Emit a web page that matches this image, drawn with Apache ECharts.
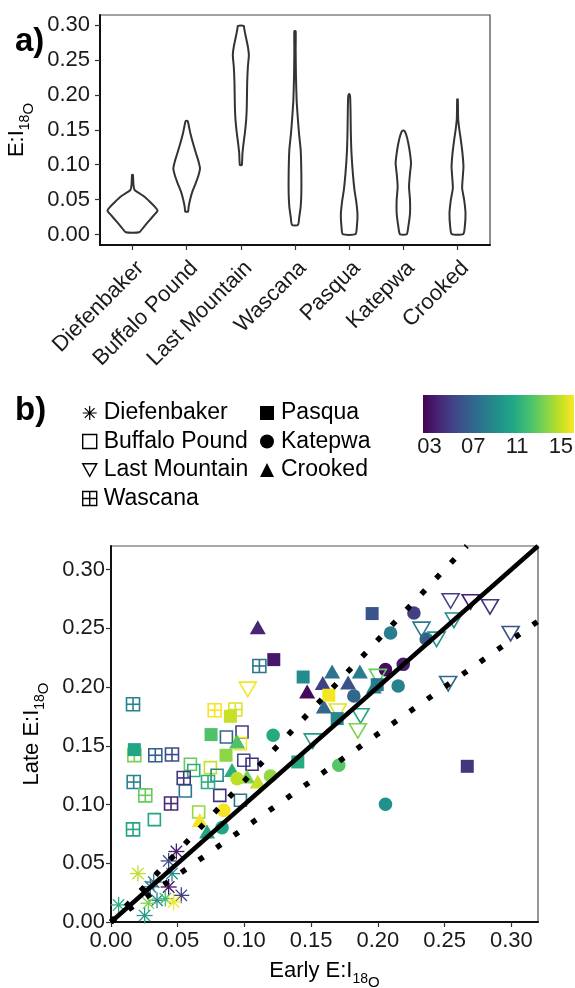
<!DOCTYPE html>
<html>
<head>
<meta charset="utf-8">
<script src="https://cdn.jsdelivr.net/npm/echarts@6/dist/echarts.min.js"></script>
<style>
  html, body { margin: 0; padding: 0; background: #fff; }
  #chart { width: 575px; height: 988px; }
</style>
</head>
<body>
<div id="chart"></div>
<script>
// lakes, in panel (a) order
const lakes = ["Diefenbaker", "Buffalo Pound", "Last Mountain", "Wascana", "Pasqua", "Katepwa", "Crooked"];
const eiTicks = [0, 0.05, 0.1, 0.15, 0.2, 0.25, 0.3];
const yearTicks = [3, 7, 11, 15];

// (a) violin outlines: E:I level and half width (in category units) at that level
const diefLvl = [0.0033, 0.0114, 0.021, 0.028, 0.0343, 0.040, 0.047, 0.0544, 0.060, 0.064, 0.071, 0.0855];
const diefHw = [0.123, 0.215, 0.32, 0.40, 0.462, 0.41, 0.32, 0.215, 0.11, 0.037, 0.018, 0.008];
const bpLvl = [0.0329, 0.040, 0.0496, 0.0615, 0.0734, 0.0854, 0.0949, 0.1044, 0.1164, 0.1307, 0.145, 0.1545, 0.1626];
const bpHw = [0.025, 0.037, 0.062, 0.105, 0.166, 0.22, 0.246, 0.22, 0.172, 0.117, 0.068, 0.043, 0.018];
const lmLvl = [0.0997, 0.1164, 0.1307, 0.145, 0.164, 0.1831, 0.2165, 0.2403, 0.257, 0.269, 0.2833, 0.2952, 0.299];
const lmHw = [0.018, 0.03, 0.05, 0.074, 0.098, 0.11, 0.117, 0.13, 0.148, 0.13, 0.092, 0.062, 0.055];
const wasLvl = [0.0138, 0.0258, 0.040, 0.0591, 0.0877, 0.1211, 0.145, 0.1688, 0.1927, 0.226, 0.2642, 0.2914];
const wasHw = [0.055, 0.08, 0.105, 0.117, 0.117, 0.105, 0.074, 0.05, 0.03, 0.018, 0.012, 0.012];
const pasLvl = [0.0005, 0.0114, 0.0281, 0.0448, 0.0639, 0.0877, 0.1164, 0.145, 0.1783, 0.1974, 0.2012];
const pasHw = [0.117, 0.142, 0.154, 0.135, 0.098, 0.068, 0.043, 0.031, 0.025, 0.018, 0.006];
const katLvl = [0.0005, 0.0114, 0.0305, 0.0496, 0.0687, 0.0877, 0.102, 0.1164, 0.1307, 0.1426, 0.1488];
const katHw = [0.062, 0.092, 0.123, 0.123, 0.105, 0.123, 0.142, 0.123, 0.092, 0.055, 0.018];
const crkLvl = [0.0005, 0.0114, 0.0305, 0.0496, 0.0663, 0.083, 0.0973, 0.1164, 0.1354, 0.1521, 0.1664, 0.1936];
const crkHw = [0.105, 0.135, 0.148, 0.123, 0.086, 0.098, 0.11, 0.092, 0.062, 0.031, 0.012, 0.006];

// (b) early vs late E:I, with year (colour) per lake
const diefEarly = [0.049, 0.0432, 0.0202, 0.0457, 0.032, 0.0295, 0.0432, 0.0527, 0.0345, 0.0407, 0.047, 0.028, 0.0057, 0.0252];
const diefLate = [0.060, 0.052, 0.0412, 0.0412, 0.034, 0.030, 0.0298, 0.0227, 0.0185, 0.0199, 0.017, 0.016, 0.0145, 0.0055];
const diefYear = [3.5, 5.5, 14.8, 9, 7, 8, 3, 5, 8.5, 12, 16, 13.5, 11, 10];
const bpEarly = [0.0865, 0.0982, 0.097, 0.0595, 0.062, 0.0745, 0.0795, 0.0995, 0.1057, 0.0557, 0.0815, 0.097, 0.0657, 0.0325];
const bpLate = [0.1574, 0.1617, 0.1518, 0.1342, 0.129, 0.1314, 0.1249, 0.1376, 0.1342, 0.1115, 0.1078, 0.1036, 0.0936, 0.0871];
const bpYear = [7, 5, 16, 13, 11, 15, 8.5, 5.5, 4, 8, 4.5, 8, 14, 10.5];
const lmEarly = [0.2545, 0.2695, 0.284, 0.2995, 0.257, 0.2327, 0.244, 0.2527, 0.2, 0.187, 0.185, 0.17, 0.1512, 0.1025];
const lmLate = [0.2738, 0.273, 0.2687, 0.246, 0.2574, 0.2497, 0.2412, 0.2034, 0.2095, 0.176, 0.1632, 0.18, 0.1546, 0.1986];
const lmYear = [5, 3.5, 4.5, 5.8, 9, 8, 9.5, 7, 13, 10.5, 13.5, 15.5, 10, 16];
const wasEarly = [0.1112, 0.0165, 0.0777, 0.0932, 0.0332, 0.0457, 0.017, 0.0257, 0.0545, 0.045, 0.0727, 0.0165, 0.0175];
const wasLate = [0.2179, 0.1853, 0.1802, 0.1808, 0.1419, 0.1425, 0.1191, 0.1078, 0.1226, 0.1008, 0.1191, 0.0788, 0.142];
const wasYear = [7.8, 8.5, 16, 15.5, 6.5, 5.5, 8.5, 13, 4.5, 4, 11, 10.5, 13.5];
const pasEarly = [0.122, 0.144, 0.0175, 0.0895, 0.075, 0.0862, 0.1632, 0.1695, 0.1995, 0.1957, 0.267, 0.14];
const pasLate = [0.2233, 0.2085, 0.1467, 0.1751, 0.1595, 0.1419, 0.193, 0.1731, 0.202, 0.2625, 0.1325, 0.1362];
const pasYear = [3.3, 9, 10.5, 15, 12.3, 13.8, 16, 8.8, 8, 6, 4.5, 10.8];
const katEarly = [0.227, 0.2095, 0.2362, 0.2057, 0.219, 0.2152, 0.182, 0.1707, 0.2057, 0.1215, 0.0945, 0.1195, 0.0845, 0.0832];
const katLate = [0.263, 0.246, 0.2409, 0.2148, 0.2193, 0.2009, 0.1923, 0.1334, 0.1002, 0.1589, 0.122, 0.1243, 0.095, 0.0803];
const katYear = [5, 8.2, 6.5, 2.8, 3.5, 8.5, 7, 12.5, 9.3, 10.8, 14.8, 14, 16, 10.5];
const crkEarly = [0.11, 0.147, 0.1587, 0.1657, 0.1777, 0.1865, 0.1595, 0.197, 0.0945, 0.0907, 0.102, 0.11, 0.0665, 0.072];
const crkLate = [0.2505, 0.1957, 0.2029, 0.2128, 0.2034, 0.2128, 0.183, 0.2, 0.1532, 0.129, 0.1234, 0.1191, 0.0864, 0.0766];
const crkYear = [3.8, 2.7, 5, 7.6, 5.8, 8.2, 7, 8.5, 12.3, 11, 13.3, 15, 16, 10.5];

// 1:1 line and +/-20% lines
const refSlopes = [1, 1.2, 0.8];
const yearMin = 2.4, yearMax = 16.2;

const FONT = "'Liberation Sans', Arial, sans-serif";
const viridis = ["#440154", "#482475", "#414487", "#355f8d", "#2a788e", "#21918c",
  "#22a884", "#44bf70", "#7ad151", "#bddf26", "#fde725"];

const violins = [[diefLvl, diefHw], [bpLvl, bpHw], [lmLvl, lmHw], [wasLvl, wasHw],
  [pasLvl, pasHw], [katLvl, katHw], [crkLvl, crkHw]];

function zip(a, b, c) {
  return a.map((v, i) => [v, b[i], c[i]]);
}

const chart = echarts.init(document.getElementById("chart"));

// violin outline
function violinItem(params, api) {
  const v = violins[params.dataIndex];
  const cx = api.value(0);
  const pts = [];
  for (let k = 0; k < v[0].length; k++) pts.push(api.coord([cx - v[1][k], v[0][k]]));
  for (let k = v[0].length - 1; k >= 0; k--) pts.push(api.coord([cx + v[1][k], v[0][k]]));
  return {
    type: "polygon",
    shape: { points: pts, smooth: 0.2 },
    style: { fill: "#fff", stroke: "#333", lineWidth: 2 },
  };
}

// point shapes like R pch 8, 0, 6, 12, 15, 16, 17
function markItem(shape) {
  return function (params, api) {
    const p = api.coord([api.value(0), api.value(1)]);
    const c = api.visual("color");
    const x = p[0], y = p[1];
    const open = { fill: "none", stroke: c, lineWidth: 1.6 };
    if (shape === "asterisk") {
      const r = 8, d = 5.7;
      const segs = [[x - r, y, x + r, y], [x, y - r, x, y + r], [x - d, y - d, x + d, y + d], [x - d, y + d, x + d, y - d]];
      return {
        type: "group",
        children: segs.map((s) => ({
          type: "line",
          shape: { x1: s[0], y1: s[1], x2: s[2], y2: s[3] },
          style: { stroke: c, lineWidth: 1.3 },
        })),
      };
    }
    if (shape === "openSquare") {
      return { type: "rect", shape: { x: x - 6, y: y - 6, width: 12, height: 12 }, style: open };
    }
    if (shape === "openTriDown") {
      return { type: "polygon", shape: { points: [[x - 8.5, y - 6.5], [x + 8.5, y - 6.5], [x, y + 8]] }, style: open };
    }
    if (shape === "crossSquare") {
      return {
        type: "group",
        children: [
          { type: "rect", shape: { x: x - 6.5, y: y - 6.5, width: 13, height: 13 }, style: open },
          { type: "line", shape: { x1: x - 6.5, y1: y, x2: x + 6.5, y2: y }, style: open },
          { type: "line", shape: { x1: x, y1: y - 6.5, x2: x, y2: y + 6.5 }, style: open },
        ],
      };
    }
    if (shape === "square") {
      return { type: "rect", shape: { x: x - 6.5, y: y - 6.5, width: 13, height: 13 }, style: { fill: c } };
    }
    if (shape === "circle") {
      return { type: "circle", shape: { cx: x, cy: y, r: 6.8 }, style: { fill: c } };
    }
    return { type: "polygon", shape: { points: [[x - 8, y + 6.5], [x + 8, y + 6.5], [x, y - 7.5]] }, style: { fill: c } };
  };
}

// drawing order of the point layers
const pointLayers = [
  ["Buffalo Pound", "openSquare", zip(bpEarly, bpLate, bpYear)],
  ["Crooked", "triUp", zip(crkEarly, crkLate, crkYear)],
  ["Diefenbaker", "asterisk", zip(diefEarly, diefLate, diefYear)],
  ["Katepwa", "circle", zip(katEarly, katLate, katYear)],
  ["Last Mountain", "openTriDown", zip(lmEarly, lmLate, lmYear)],
  ["Wascana", "crossSquare", zip(wasEarly, wasLate, wasYear)],
  ["Pasqua", "square", zip(pasEarly, pasLate, pasYear)],
];

const bMax = 0.32;
const series = [];
series.push({
  type: "custom",
  xAxisIndex: 0,
  yAxisIndex: 0,
  renderItem: violinItem,
  data: lakes.map((n, i) => [i + 1]),
  silent: true,
});
pointLayers.forEach((l) => {
  series.push({
    name: l[0],
    type: "custom",
    xAxisIndex: 1,
    yAxisIndex: 1,
    renderItem: markItem(l[1]),
    encode: { x: 0, y: 1 },
    data: l[2],
    silent: true,
  });
});
refSlopes.forEach((s, i) => {
  const xe = Math.min(bMax, bMax / s);
  series.push({
    type: "line",
    xAxisIndex: 1,
    yAxisIndex: 1,
    showSymbol: false,
    silent: true,
    z: 5,
    data: [[0, 0], [xe, xe * s]],
    lineStyle: i === 0
      ? { color: "#000", width: 4.5 }
      : { color: "#000", width: 5.5, type: [5.5, 16], cap: "butt" },
  });
});
// colour bar
series.push({
  type: "custom",
  xAxisIndex: 2,
  yAxisIndex: 2,
  silent: true,
  data: [[yearMin, yearMax]],
  renderItem: function (params, api) {
    const a = api.coord([api.value(0), 0]);
    const b = api.coord([api.value(1), 1]);
    return {
      type: "rect",
      shape: { x: a[0], y: b[1], width: b[0] - a[0], height: a[1] - b[1] },
      style: {
        fill: new echarts.graphic.LinearGradient(0, 0, 1, 0,
          viridis.map((c, i) => ({ offset: i / (viridis.length - 1), color: c }))),
      },
    };
  },
});

const nameRich = {
  m: { fontFamily: FONT, fontSize: 22, lineHeight: 22, verticalAlign: "top", color: "#000" },
  s: { fontFamily: FONT, fontSize: 14, lineHeight: 14, verticalAlign: "top", padding: [12, 0, 0, 0], color: "#000" },
  o: { fontFamily: FONT, fontSize: 15, lineHeight: 15, verticalAlign: "top", padding: [15, 0, 0, 0], color: "#000" },
};
const tickLabel = { fontFamily: FONT, fontSize: 22, color: "#1a1a1a" };
const axisLine = { show: true, onZero: false, lineStyle: { color: "#111", width: 2 } };
const axisTick = { show: true, length: 5, lineStyle: { color: "#333", width: 1.2 } };

function legendItem(name, icon, filled, lw) {
  return {
    name: name,
    icon: icon,
    itemStyle: filled
      ? { color: "#000", borderWidth: 0 }
      : { color: "rgba(0,0,0,0)", borderColor: "#000", borderWidth: lw || 1.4 },
  };
}
const legendText = { fontFamily: FONT, fontSize: 23, color: "#000", lineHeight: 24, padding: [0, 0, 0, 2] };

chart.setOption({
  backgroundColor: "#fff",
  animation: false,
  title: [
    { text: "a)", left: 10, top: 20, textStyle: { fontFamily: FONT, fontSize: 33, fontWeight: "bold", color: "#000" } },
    { text: "b)", left: 10, top: 389, textStyle: { fontFamily: FONT, fontSize: 33, fontWeight: "bold", color: "#000" } },
  ],
  legend: [
    {
      left: 82, top: 401, padding: 0, orient: "vertical", itemWidth: 14, itemHeight: 14, itemGap: 4.5,
      selectedMode: false, textStyle: legendText,
      data: [
        legendItem("Diefenbaker", "path://M0,-10L0,10M-10,0L10,0M-7,-7L7,7M-7,7L7,-7", false, 1.2),
        legendItem("Buffalo Pound", "rect", false),
        legendItem("Last Mountain", "path://M-10,-8L10,-8L0,10Z", false),
        legendItem("Wascana", "path://M-10,-10L10,-10L10,10L-10,10ZM0,-10L0,10M-10,0L10,0", false),
      ],
    },
    {
      left: 260, top: 401, padding: 0, orient: "vertical", itemWidth: 14, itemHeight: 14, itemGap: 4.5,
      selectedMode: false, textStyle: legendText,
      data: [
        legendItem("Pasqua", "rect", true),
        legendItem("Katepwa", "circle", true),
        legendItem("Crooked", "triangle", true),
      ],
    },
  ],
  visualMap: {
    show: false,
    type: "continuous",
    min: yearMin,
    max: yearMax,
    dimension: 2,
    seriesIndex: [1, 2, 3, 4, 5, 6, 7],
    inRange: { color: viridis },
  },
  grid: [
    { left: 100, right: 85, top: 15, height: 230, outerBoundsMode: "none", show: true, borderColor: "#444", borderWidth: 1.2 },
    { left: 111, right: 37, top: 546, bottom: 66, outerBoundsMode: "none", show: true, borderColor: "#555", borderWidth: 1.2 },
    { left: 423, right: 1, top: 395, height: 38, outerBoundsMode: "none" },
  ],
  xAxis: [
    {
      gridIndex: 0, type: "value", min: 0.4, max: 7.6,
      axisLine: axisLine, splitLine: { show: false },
      axisTick: Object.assign({ customValues: [1, 2, 3, 4, 5, 6, 7] }, axisTick),
      axisLabel: Object.assign({
        customValues: [1, 2, 3, 4, 5, 6, 7], rotate: 45, margin: 12, verticalAlign: "top",
        formatter: (v) => lakes[Math.round(v) - 1],
      }, tickLabel),
    },
    {
      gridIndex: 1, type: "value", min: 0, max: bMax,
      axisLine: axisLine, splitLine: { show: false },
      axisTick: Object.assign({ customValues: eiTicks }, axisTick),
      axisLabel: Object.assign({ customValues: eiTicks, margin: 8, formatter: (v) => v.toFixed(2) }, tickLabel),
      name: "{m|Early E:I}{s|18}{o|O}", nameLocation: "middle", nameGap: 38,
      nameTextStyle: { rich: nameRich },
    },
    {
      gridIndex: 2, type: "value", min: yearMin, max: yearMax,
      axisLine: { show: false }, splitLine: { show: false },
      axisTick: { show: true, inside: true, length: 6, customValues: yearTicks, lineStyle: { color: "#fff", width: 1 } },
      axisLabel: Object.assign({
        customValues: yearTicks, margin: 3,
        formatter: (v) => (v < 10 ? "0" + v : "" + v),
      }, tickLabel),
    },
    {
      gridIndex: 2, type: "value", min: yearMin, max: yearMax, position: "top",
      axisLine: { show: false }, splitLine: { show: false }, axisLabel: { show: false },
      axisTick: { show: true, inside: true, length: 6, customValues: yearTicks, lineStyle: { color: "#fff", width: 1 } },
    },
  ],
  yAxis: [
    {
      gridIndex: 0, type: "value", min: -0.015, max: 0.3145,
      axisLine: axisLine, splitLine: { show: false },
      axisTick: Object.assign({ customValues: eiTicks }, axisTick),
      axisLabel: Object.assign({ customValues: eiTicks, margin: 10, formatter: (v) => v.toFixed(2) }, tickLabel),
      name: "{m|E:I}{s|18}{o|O}", nameLocation: "middle", nameGap: 59,
      nameTextStyle: { rich: nameRich },
    },
    {
      gridIndex: 1, type: "value", min: 0, max: bMax,
      axisLine: axisLine, splitLine: { show: false },
      axisTick: Object.assign({ customValues: eiTicks }, axisTick),
      axisLabel: Object.assign({ customValues: eiTicks, margin: 6, formatter: (v) => v.toFixed(2) }, tickLabel),
      name: "{m|Late E:I}{s|18}{o|O}", nameLocation: "middle", nameGap: 64,
      nameTextStyle: { rich: nameRich },
    },
    {
      gridIndex: 2, type: "value", min: 0, max: 1, show: false,
    },
  ],
  series: series,
});
</script>
</body>
</html>
